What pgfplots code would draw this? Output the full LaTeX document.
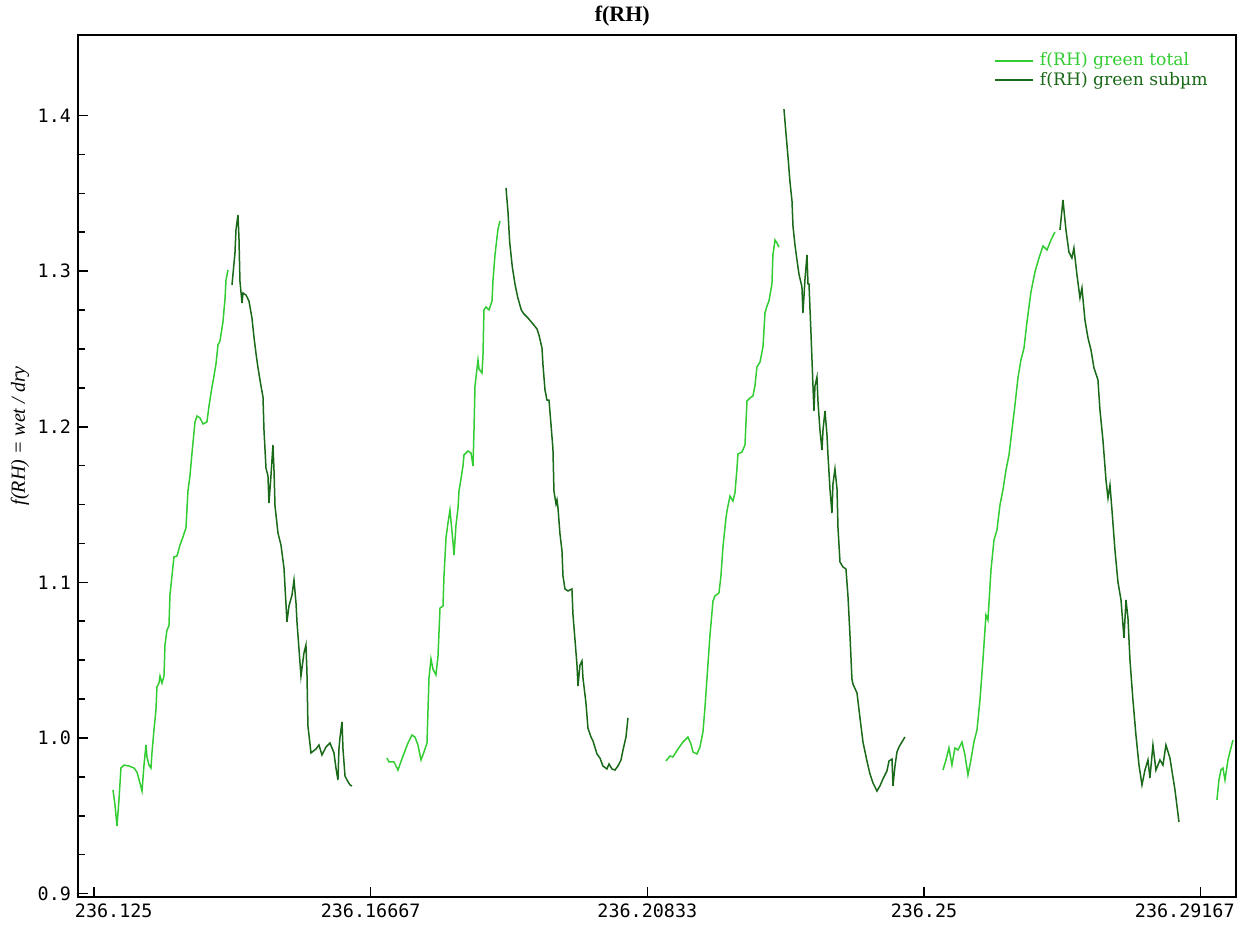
\documentclass[border=0pt]{standalone}
\usepackage{fontspec}
\setmainfont{Liberation Serif}
\setmonofont{DejaVu Sans Mono}
\newfontfamily\legfont{DejaVu Serif}
\usepackage{pgfplots}
\pgfplotsset{compat=1.18}
\definecolor{lgreen}{RGB}{50,205,50}
\definecolor{dgreen}{RGB}{25,105,25}
\begin{document}
\begin{tikzpicture}
\begin{axis}[
  scale only axis, width=579pt, height=431pt,
  xmin=0.12259, xmax=0.29699, ymin=0.8978, ymax=1.4518,
  axis line style={line width=1pt},
  tick align=inside, xtick pos=bottom, ytick pos=left,
  major tick length=5pt, minor tick length=3.5pt,
  every tick/.style={black, line width=0.8pt},
  minor tick num=3,
  xtick={0.125,0.1666667,0.2083333,0.25,0.2916667},
  xticklabels={\makebox[0pt][l]{\hspace*{-9.5pt}236.125},236.16667,236.20833,236.25,\makebox[0pt][r]{236.29167\hspace*{-17pt}}},
  ytick={0.9,1.0,1.1,1.2,1.3,1.4},
  yticklabels={0.9,1.0,1.1,1.2,1.3,1.4},
  ticklabel style={font=\ttfamily\fontsize{9.2}{11}\selectfont},
  title={f(RH)},
  title style={font=\bfseries\fontsize{11}{13}\selectfont, at={(axis description cs:0.47,1)}, anchor=center, yshift=3.5pt},
  ylabel={\textit{f(RH) = wet / dry}},
  ylabel style={font=\fontsize{10}{12}\selectfont, at={(axis description cs:-0.05,0.535)}, anchor=center},
  unbounded coords=jump,
  legend image code/.code={\draw[#1, line width=0.8pt] (0pt,0pt) -- (19pt,0pt);},
  legend style={at={(axis description cs:0.791,0.982)}, anchor=north west, draw=none, fill=none, inner sep=0pt, nodes={inner sep=1pt}, font=\legfont\fontsize{8.6}{9}\selectfont, row sep=-0.5pt, column sep=2pt},
  legend cell align=left,
]
\addplot[lgreen, line width=0.75pt] coordinates {
(0.12786,0.9666) (0.12816,0.9569) (0.12846,0.9434) (0.12876,0.9602) (0.12906,0.9807) (0.12951,0.9826) (0.13027,0.9820) (0.13102,0.9807) (0.13147,0.9781) (0.13192,0.9711) (0.13223,0.9659) (0.13253,0.9826) (0.13283,0.9955) (0.13298,0.9878) (0.13328,0.9826) (0.13358,0.9807) (0.13373,0.9904) (0.13403,1.0051) (0.13433,1.0180) (0.13448,1.0328) (0.13479,1.0353) (0.13494,1.0398) (0.13524,1.0353) (0.13554,1.0398) (0.13569,1.0598) (0.13599,1.0694) (0.13629,1.0720) (0.13644,1.0919) (0.13674,1.1041) (0.13704,1.1163) (0.13750,1.1170) (0.13795,1.1240) (0.13840,1.1292) (0.13885,1.1350) (0.13915,1.1587) (0.13945,1.1684) (0.13976,1.1832) (0.14021,1.2031) (0.14051,1.2069) (0.14096,1.2057) (0.14141,1.2018) (0.14201,1.2031) (0.14232,1.2134) (0.14277,1.2256) (0.14307,1.2326) (0.14337,1.2404) (0.14367,1.2526) (0.14397,1.2551) (0.14442,1.2674) (0.14473,1.2821) (0.14488,1.2943) (0.14518,1.3008)
(0.16,nan)
(0.16912,0.9871) (0.16943,0.9846) (0.17018,0.9846) (0.17078,0.9794) (0.17153,0.9884) (0.17229,0.9968) (0.17289,1.0019) (0.17334,1.0006) (0.17379,0.9955) (0.17425,0.9859) (0.17470,0.9910) (0.17515,0.9968) (0.17545,1.0386) (0.17575,1.0508) (0.17605,1.0443) (0.17650,1.0405) (0.17681,1.0527) (0.17711,1.0835) (0.17756,1.0848) (0.17771,1.1041) (0.17801,1.1285) (0.17831,1.1382) (0.17861,1.1465) (0.17906,1.1260) (0.17922,1.1176) (0.17952,1.1369) (0.17982,1.1478) (0.17997,1.1587) (0.18027,1.1665) (0.18057,1.1748) (0.18072,1.1819) (0.18132,1.1844) (0.18178,1.1832) (0.18208,1.1748) (0.18223,1.1979) (0.18238,1.2262) (0.18283,1.2429) (0.18298,1.2371) (0.18343,1.2346) (0.18358,1.2455) (0.18373,1.2751) (0.18403,1.2770) (0.18449,1.2751) (0.18494,1.2808) (0.18509,1.2943) (0.18539,1.3104) (0.18584,1.3271) (0.18614,1.3323)
(0.20,nan)
(0.21114,0.9852) (0.21174,0.9884) (0.21219,0.9878) (0.21295,0.9929) (0.21370,0.9974) (0.21445,1.0006) (0.21491,0.9961) (0.21521,0.9910) (0.21581,0.9897) (0.21626,0.9942) (0.21671,1.0039) (0.21701,1.0193) (0.21731,1.0379) (0.21777,1.0662) (0.21822,1.0880) (0.21852,1.0913) (0.21912,1.0932) (0.21942,1.1041) (0.21972,1.1227) (0.22018,1.1414) (0.22033,1.1459) (0.22078,1.1555) (0.22123,1.1523) (0.22153,1.1575) (0.22183,1.1729) (0.22198,1.1825) (0.22259,1.1838) (0.22304,1.1883) (0.22334,1.2166) (0.22379,1.2185) (0.22424,1.2198) (0.22454,1.2262) (0.22484,1.2384) (0.22530,1.2416) (0.22575,1.2513) (0.22605,1.2731) (0.22635,1.2776) (0.22665,1.2808) (0.22710,1.2918) (0.22725,1.3104) (0.22756,1.3200) (0.22786,1.3181) (0.22816,1.3155)
(0.24,nan)
(0.25286,0.9794) (0.25331,0.9859) (0.25376,0.9936) (0.25421,0.9826) (0.25466,0.9936) (0.25512,0.9923) (0.25572,0.9974) (0.25617,0.9891) (0.25662,0.9762) (0.25707,0.9859) (0.25752,0.9974) (0.25798,1.0051) (0.25843,1.0244) (0.25888,1.0501) (0.25933,1.0790) (0.25963,1.0758) (0.26009,1.1080) (0.26054,1.1272) (0.26099,1.1337) (0.26144,1.1497) (0.26189,1.1594) (0.26235,1.1722) (0.26280,1.1819) (0.26325,1.1979) (0.26370,1.2140) (0.26415,1.2314) (0.26460,1.2429) (0.26506,1.2506) (0.26551,1.2674) (0.26611,1.2866) (0.26671,1.2995) (0.26732,1.3085) (0.26792,1.3162) (0.26852,1.3136) (0.26912,1.3200) (0.26972,1.3252)
(0.29,nan)
(0.29412,0.9602) (0.29442,0.9730) (0.29472,0.9794) (0.29502,0.9807) (0.29533,0.9730) (0.29578,0.9859) (0.29623,0.9936) (0.29653,0.9987)
};
\addlegendentry{\textcolor{lgreen}{f(RH) green total}}
\addplot[dgreen, line width=0.75pt] coordinates {
(0.14578,1.2911) (0.14623,1.3117) (0.14638,1.3265) (0.14668,1.3361) (0.14683,1.3220) (0.14698,1.2937) (0.14729,1.2796) (0.14744,1.2860) (0.14789,1.2847) (0.14834,1.2808) (0.14879,1.2699) (0.14909,1.2577) (0.14939,1.2474) (0.14970,1.2378) (0.15000,1.2301) (0.15015,1.2262) (0.15045,1.2192) (0.15060,1.1979) (0.15090,1.1735) (0.15120,1.1684) (0.15135,1.1510) (0.15165,1.1684) (0.15195,1.1883) (0.15210,1.1735) (0.15226,1.1491) (0.15271,1.1317) (0.15316,1.1240) (0.15361,1.1093) (0.15406,1.0746) (0.15436,1.0848) (0.15482,1.0919) (0.15512,1.1015) (0.15542,1.0868) (0.15557,1.0746) (0.15587,1.0572) (0.15617,1.0398) (0.15662,1.0546) (0.15692,1.0598) (0.15707,1.0424) (0.15722,1.0077) (0.15768,0.9904) (0.15843,0.9929) (0.15888,0.9955) (0.15933,0.9891) (0.15994,0.9942) (0.16054,0.9968) (0.16114,0.9904) (0.16144,0.9807) (0.16174,0.9730) (0.16189,0.9929) (0.16204,1.0000) (0.16235,1.0103) (0.16250,0.9929) (0.16280,0.9756) (0.16310,0.9730) (0.16355,0.9698) (0.16385,0.9692)
(0.17,nan)
(0.18705,1.3535) (0.18735,1.3380) (0.18760,1.3188) (0.18800,1.3027) (0.18840,1.2918) (0.18880,1.2834) (0.18935,1.2751) (0.18975,1.2725) (0.19036,1.2699) (0.19111,1.2661) (0.19171,1.2629) (0.19201,1.2590) (0.19247,1.2506) (0.19262,1.2397) (0.19292,1.2237) (0.19322,1.2172) (0.19352,1.2172) (0.19382,1.2018) (0.19412,1.1857) (0.19427,1.1587) (0.19458,1.1504) (0.19473,1.1530) (0.19488,1.1478) (0.19518,1.1311) (0.19548,1.1202) (0.19563,1.1041) (0.19593,1.0958) (0.19638,1.0945) (0.19698,1.0958) (0.19713,1.0797) (0.19744,1.0630) (0.19774,1.0469) (0.19789,1.0334) (0.19819,1.0469) (0.19849,1.0495) (0.19864,1.0386) (0.19909,1.0225) (0.19939,1.0064) (0.19985,1.0006) (0.20015,0.9981) (0.20075,0.9897) (0.20120,0.9871) (0.20165,0.9820) (0.20225,0.9801) (0.20256,0.9833) (0.20301,0.9801) (0.20346,0.9794) (0.20391,0.9820) (0.20437,0.9859) (0.20467,0.9923) (0.20512,1.0006) (0.20542,1.0129)
(0.21,nan)
(0.22891,1.4042) (0.22921,1.3888) (0.22952,1.3734) (0.22982,1.3573) (0.23012,1.3451) (0.23027,1.3290) (0.23057,1.3168) (0.23087,1.3072) (0.23117,1.2982) (0.23162,1.2898) (0.23177,1.2731) (0.23208,1.2950) (0.23238,1.3104) (0.23253,1.2918) (0.23268,1.2918) (0.23298,1.2603) (0.23328,1.2262) (0.23343,1.2102) (0.23358,1.2262) (0.23388,1.2320) (0.23403,1.2166) (0.23433,1.1979) (0.23464,1.1851) (0.23479,1.1979) (0.23509,1.2102) (0.23539,1.1947) (0.23554,1.1819) (0.23584,1.1600) (0.23614,1.1446) (0.23629,1.1632) (0.23659,1.1729) (0.23690,1.1600) (0.23705,1.1350) (0.23735,1.1131) (0.23780,1.1099) (0.23825,1.1086) (0.23855,1.0913) (0.23885,1.0662) (0.23915,1.0379) (0.23930,1.0347) (0.23991,1.0289) (0.24036,1.0129) (0.24081,0.9974) (0.24141,0.9852) (0.24186,0.9769) (0.24232,0.9711) (0.24292,0.9659) (0.24337,0.9692) (0.24382,0.9737) (0.24442,0.9788) (0.24473,0.9852) (0.24518,0.9865) (0.24533,0.9692) (0.24563,0.9820) (0.24593,0.9910) (0.24623,0.9942) (0.24668,0.9974) (0.24713,1.0006)
(0.25,nan)
(0.27048,1.3265) (0.27093,1.3458) (0.27138,1.3265) (0.27183,1.3123) (0.27228,1.3085) (0.27258,1.3149) (0.27304,1.2976) (0.27349,1.2828) (0.27379,1.2892) (0.27424,1.2686) (0.27470,1.2571) (0.27515,1.2494) (0.27560,1.2378) (0.27620,1.2301) (0.27650,1.2108) (0.27695,1.1915) (0.27741,1.1658) (0.27771,1.1542) (0.27801,1.1626) (0.27831,1.1465) (0.27876,1.1208) (0.27921,1.1003) (0.27967,1.0887) (0.28012,1.0643) (0.28042,1.0887) (0.28072,1.0771) (0.28102,1.0501) (0.28147,1.0244) (0.28192,1.0019) (0.28238,0.9826) (0.28283,0.9698) (0.28328,0.9794) (0.28373,0.9859) (0.28403,0.9743) (0.28448,0.9955) (0.28493,0.9794) (0.28554,0.9859) (0.28599,0.9826) (0.28644,0.9955) (0.28704,0.9871) (0.28780,0.9666) (0.28840,0.9460)
};
\addlegendentry{\textcolor{dgreen}{f(RH) green subµm}}
\end{axis}
\pgfresetboundingbox
\path ([xshift=-39pt,yshift=-13.5pt]current axis.south west) rectangle ([xshift=1pt,yshift=17.5pt]current axis.north east);
\end{tikzpicture}
\end{document}
